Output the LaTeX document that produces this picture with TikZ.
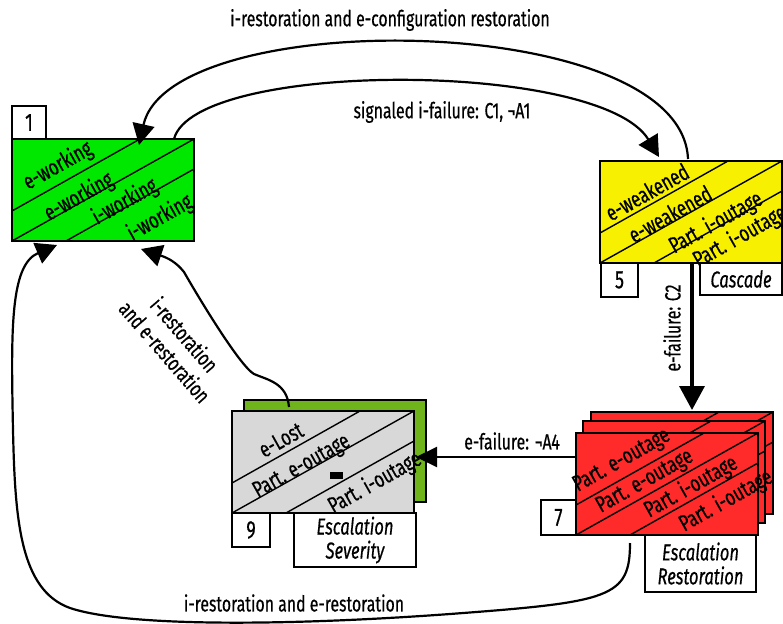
\documentclass[tikz,border=0pt]{standalone}
\usepackage{fontspec}
\setmainfont{Fira Sans}[FakeStretch=0.72,FakeBold=0.5]
\usetikzlibrary{arrows.meta,calc}
\definecolor{workgreen}{RGB}{0,232,0}
\definecolor{weakyellow}{RGB}{247,240,0}
\definecolor{lostgrey}{RGB}{216,216,216}
\definecolor{shadowgreen}{RGB}{110,180,26}
\definecolor{outred}{RGB}{255,42,42}

% three parallel stripes across a state box
\newcommand\stripes[1]{%
  \draw[stripe] ($(#1.south west)+(0,-30)$) -- ($(#1.north west)+(128,0)$);
  \draw[stripe] (#1.south west) -- (#1.north east);
  \draw[stripe] ($(#1.south west)+(54,0)$) -- ($(#1.north east)+(0,30)$);}

\begin{document}
\begin{tikzpicture}[x=1pt,y=-1pt,
  statebox/.style={draw=black,line width=1.6pt,minimum width=182pt,minimum height=102pt,inner sep=0pt,outer sep=0pt},
  stripe/.style={line width=1.4pt},
  numbox/.style={draw,line width=1.4pt,fill=white,inner sep=0pt,outer sep=0pt,font=\fontsize{25}{27}\selectfont},
  tagbox/.style={draw,line width=1.4pt,fill=white,inner sep=0pt,outer sep=0pt,align=center,font=\fontsize{23}{24}\selectfont\itshape},
  band/.style={rotate=29.3,font=\fontsize{23}{24}\selectfont,inner sep=0pt},
  lbl/.style={font=\fontsize{22}{26}\selectfont,inner sep=1pt,align=center},
  conn/.style={line width=2.2pt,-{Triangle[length=21pt,width=22pt]}},
]
\useasboundingbox (0,0) rectangle (783,623);

% ---- state 1: working
\node[statebox,fill=workgreen] (s1) at (103,190) {};
\stripes{s1}
\node[band] at ($(s1.north west)+(46,27)$) {e-working};
\node[band] at ($(s1.north west)+(67,58)$) {e-working};
\node[band] at ($(s1.north west)+(113,63)$) {i-working};
\node[band] at ($(s1.north west)+(148,79)$) {i-working};
\node[numbox,minimum width=34pt,minimum height=33pt,anchor=south west] (n1) at (s1.north west) {1};

% ---- state 5: weakened
\node[statebox,fill=weakyellow] (s5) at (691,212) {};
\stripes{s5}
\node[band] at ($(s5.north west)+(47,31)$) {e-weakened};
\node[band] at ($(s5.north west)+(70,53)$) {e-weakened};
\node[band] at ($(s5.north west)+(116,62)$) {Part. i-outage};
\node[band] at ($(s5.north west)+(140,76)$) {Part. i-outage};
\node[numbox,minimum width=37pt,minimum height=34pt,anchor=north west] (n5) at ($(s5.south west)+(1,0)$) {5};
\node[tagbox,minimum width=82pt,minimum height=32pt,anchor=north east] (t5) at (s5.south east) {Cascade};

% ---- state 9: lost
\node[statebox,fill=shadowgreen] (s9b) at (335,451) {};
\node[statebox,fill=lostgrey] (s9) at (323,462) {};
\stripes{s9}
\node[band] at ($(s9.north west)+(49,29)$) {e-Lost};
\node[band] at ($(s9.north west)+(70,56)$) {Part. e-outage};
\node[band] at ($(s9.north west)+(143,72)$) {Part. i-outage};
\fill ($(s9.north west)+(98,61)$) rectangle ($(s9.north west)+(111,68)$);
\node[numbox,minimum width=38pt,minimum height=34pt,anchor=north west] (n9) at (s9.south west) {9};
\node[tagbox,minimum width=122pt,minimum height=54pt,anchor=north west] (t9) at ($(s9.south west)+(62,0)$) {Escalation\\Severity};

% ---- state 7: outage (stacked)
\node[statebox,fill=outred] (s7c) at (682,463) {};
\stripes{s7c}
\node[statebox,fill=outred] (s7b) at (674,472) {};
\stripes{s7b}
\node[statebox,fill=outred] (s7) at (667,484) {};
\stripes{s7}
\node[band] at ($(s7.north west)+(46,28)$) {Part. e-outage};
\node[band] at ($(s7.north west)+(69,49)$) {Part. e-outage};
\node[band] at ($(s7.north west)+(115,54)$) {Part. i-outage};
\node[band] at ($(s7.north west)+(150,68)$) {Part. i-outage};
\node[numbox,minimum width=35pt,minimum height=35pt,anchor=south east] (n7) at (s7.south west) {7};
\node[tagbox,minimum width=111pt,minimum height=57pt,anchor=north west] (t7) at ($(s7.south west)+(69,0)$) {Escalation\\Restoration};

% ---- connector end points
\coordinate (a1s) at ($(s5.north west)+(88,-2)$);
\coordinate (a1e) at ($(s1.north west)+(127,6)$);
\coordinate (a2s) at ($(s1.north west)+(162,0)$);
\coordinate (a2e) at ($(s5.north west)+(59,-4)$);
\coordinate (a3s) at ($(s5.south west)+(92,0)$);
\coordinate (a3e) at ($(s7c.north west)+(101,-2)$);
\coordinate (a4s) at ($(s7.north west)+(0,24)$);
\coordinate (a4e) at ($(s9.north east)+(2,46)$);
\coordinate (a5s) at ($(s9.north west)+(57,-4)$);
\coordinate (a5e) at ($(s1.south west)+(129,8)$);
\coordinate (a6s) at ($(s7.south west)+(54,8)$);
\coordinate (a6e) at ($(s1.south west)+(45,4)$);

% ---- connectors
\draw[conn] (a1s) .. controls (682,10) and (170,5) .. (a1e);
\draw[conn] (a2s) .. controls (195,60) and (600,60) .. (a2e);
\draw[line width=3.4pt,-{Triangle[length=24pt,width=25pt]}] (a3s) -- (a3e);
\draw[conn,-{Triangle[length=21pt,width=20pt]}] (a4s) -- (a4e);
\draw[conn] (a5s) .. controls (287,383) and (268,380) .. (254,374)
  .. controls (240,366) and (200,300) .. (184,272)
  .. controls (176,262) and (168,258) .. (a5e);
\draw[conn] (a6s) .. controls (630,598) and (610,602) .. (450,614)
  .. controls (300,625) and (130,628) .. (70,608)
  .. controls (20,590) and (15,520) .. (13,430)
  .. controls (11,330) and (10,265) .. (a6e);

% ---- connector labels
\node[lbl] at (390,20) {i-restoration and e-configuration restoration};
\node[lbl] at (442,112) {signaled i-failure: C1, ¬A1};
\node[lbl,rotate=90] at (672,328) {e-failure: C2};
\node[lbl] at (512,441) {e-failure: ¬A4};
\node[lbl,rotate=-49] at (175,343) {i-restoration\\and e-restoration};
\node[lbl] at (294,603) {i-restoration and e-restoration};
\end{tikzpicture}
\end{document}
